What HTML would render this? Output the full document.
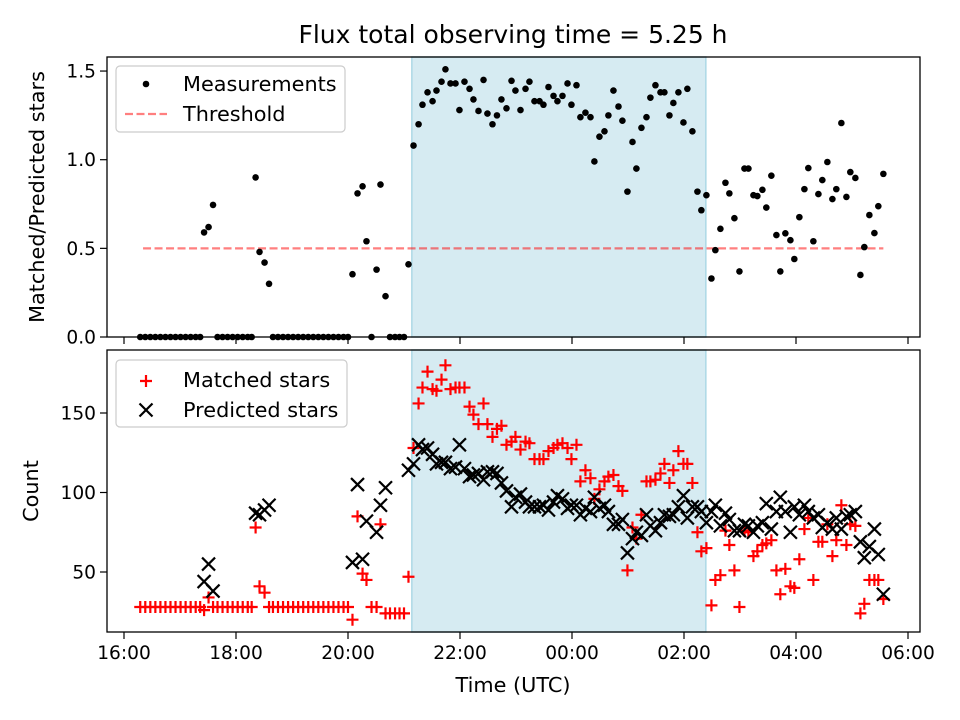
<!DOCTYPE html>
<html><head><meta charset="utf-8"><style>
html,body{margin:0;padding:0;background:#fff}
svg{display:block;font-family:"DejaVu Sans","Liberation Sans",sans-serif}
</style></head><body>
<svg id="chart" width="960" height="720" viewBox="0 0 960 720" xmlns="http://www.w3.org/2000/svg">
<text x="513" y="43" font-size="25" text-anchor="middle">Flux total observing time = 5.25 h</text>
<g id="topPanel"></g>
<g id="botPanel"></g>
<text x="513" y="692" font-size="20.8" text-anchor="middle">Time (UTC)</text>
<text transform="translate(44,197) rotate(-90)" font-size="20.8" text-anchor="middle">Matched/Predicted stars</text>
<text transform="translate(38,491) rotate(-90)" font-size="20.8" text-anchor="middle">Count</text>
</svg>
<script>
const times = [0.29,0.38,0.47,0.56,0.65,0.74,0.83,0.92,1.01,1.10,1.19,1.28,1.36,1.43,1.51,1.59,1.67,1.76,1.85,1.94,2.03,2.12,2.21,2.28,2.35,2.42,2.51,2.59,2.66,2.75,2.84,2.93,3.02,3.11,3.20,3.29,3.38,3.47,3.56,3.65,3.74,3.83,3.92,4.00,4.08,4.17,4.26,4.33,4.42,4.51,4.58,4.67,4.75,4.84,4.92,5.00,5.08,5.17,5.26,5.33,5.42,5.51,5.58,5.67,5.74,5.83,5.92,5.99,6.08,6.17,6.24,6.33,6.42,6.49,6.58,6.66,6.74,6.83,6.92,6.99,7.08,7.17,7.24,7.33,7.42,7.49,7.58,7.67,7.74,7.83,7.92,7.99,8.08,8.15,8.24,8.33,8.40,8.49,8.58,8.65,8.74,8.83,8.90,8.99,9.08,9.15,9.24,9.33,9.40,9.49,9.58,9.65,9.74,9.81,9.90,9.99,10.06,10.15,10.24,10.31,10.40,10.49,10.56,10.65,10.74,10.81,10.90,10.99,11.08,11.15,11.24,11.31,11.40,11.47,11.56,11.65,11.72,11.81,11.90,11.97,12.06,12.15,12.22,12.31,12.40,12.47,12.56,12.65,12.72,12.81,12.90,12.97,13.06,13.15,13.22,13.31,13.40,13.47,13.56];
const ratio = [0,0,0,0,0,0,0,0,0,0,0,0,0,0.59,0.62,0.745,0,0,0,0,0,0,0,0,0.90,0.48,0.42,0.30,0,0,0,0,0,0,0,0,0,0,0,0,0,0,0,0,0.354,0.81,0.85,0.54,0,0.38,0.86,0.23,0,0,0,0,0.41,1.08,1.20,1.31,1.38,1.33,1.39,1.44,1.51,1.43,1.43,1.28,1.44,1.40,1.34,1.275,1.45,1.26,1.20,1.25,1.34,1.29,1.445,1.39,1.28,1.40,1.44,1.33,1.33,1.31,1.41,1.36,1.33,1.36,1.43,1.31,1.42,1.24,1.265,1.24,0.99,1.13,1.16,1.25,1.39,1.30,1.22,0.82,1.10,0.95,1.18,1.24,1.35,1.42,1.38,1.38,1.25,1.32,1.38,1.21,1.40,1.16,0.82,0.715,0.80,0.33,0.49,0.61,0.87,0.81,0.67,0.37,0.95,0.95,0.80,0.795,0.83,0.73,0.91,0.575,0.37,0.585,0.546,0.44,0.676,0.834,0.953,0.54,0.806,0.885,0.987,0.778,0.834,1.207,0.79,0.93,0.897,0.35,0.507,0.688,0.586,0.738,0.92];
const matched = [28,28,28,28,28,28,28,28,28,28,28,28,28,26,34,28,28,28,28,28,28,28,28,28,78,41,37,28,28,28,28,28,28,28,28,28,28,28,28,28,28,28,28,28,20,85,49,45,28,28,80,24,24,24,24,24,47,128,156,166,176,165,164,171,180,165,166,166,166,154,149,143,156,143,135,140,142,130,132,135,127,132,131,121,121,121,126,128,130,131,128,121,130,107,114,109,96,102,107,110,111,104,101,51,78,71,86,107,107,108,112,118,106,114,126,118,118,106,75,63,65,29,45,48,76,67,51,28,76,75,60,63,67,68,70,51,36,52,41,40,58,77,84,45,69,69,80,60,70,92,67,80,79,24,30,45,45,45,33];
const predicted = [null,null,null,null,null,null,null,null,null,null,null,null,null,44,55,38,null,null,null,null,null,null,null,null,87,86,89,92,null,null,null,null,null,null,null,null,null,null,null,null,null,null,null,null,56,105,58,82,null,75,92,103,null,null,null,null,114,118,130,127,128,124,118,119,119,115,116,130,115,110,111,112,108,113,113,112,106,101,91,97,99,94,91,91,91,92,89,94,98,96,90,92,92,86,90,88,97,90,92,88,80,80,83,62,71,75,73,86,79,76,81,86,85,86,91,98,84,91,91,88,81,88,92,79,87,83,76,76,80,79,75,79,81,93,77,88,97,88,75,91,86,92,88,84,86,78,81,77,84,77,85,86,88,69,59,66,77,61,36];
const xTickLabels = ["16:00","18:00","20:00","22:00","00:00","02:00","04:00","06:00"];
const xTickHours = [0,2,4,6,8,10,12,14];
const topYTicks = [0.0,0.5,1.0,1.5];
const botYTicks = [50,100,150];
const shadeRange = [5.14,10.39];
const thresholdValue = 0.5;
const thresholdRange = [0.34,13.56];

const NS="http://www.w3.org/2000/svg";
const L=107,R=920,T1=57,B1=337,T2=350,B2=632;
const FS=18.6, LFS=20.8;
const xs=h=>124+56*h;
const y1=v=>337-177.3*v;
const y2=v=>572-1.59*(v-50);
function mk(parent,tag,attrs){const e=document.createElementNS(NS,tag);for(const k in attrs)e.setAttribute(k,attrs[k]);parent.appendChild(e);return e;}
const topG=document.getElementById('topPanel'),botG=document.getElementById('botPanel');

[[topG,T1,B1],[botG,T2,B2]].forEach(([g,t,b])=>{
  const r=mk(g,'rect',{x:xs(shadeRange[0]),y:t,width:xs(shadeRange[1])-xs(shadeRange[0]),height:b-t,fill:'#add8e6','fill-opacity':0.5,stroke:'#add8e6','stroke-width':1.5});
  
  
});
const th=mk(topG,'line',{x1:xs(thresholdRange[0]),x2:xs(thresholdRange[1]),y1:y1(thresholdValue),y2:y1(thresholdValue),stroke:'#ff0000','stroke-opacity':0.5,'stroke-width':2.2,'stroke-dasharray':'8,3.5'});


times.forEach((t,i)=>{
  const c=mk(topG,'circle',{cx:xs(t),cy:y1(ratio[i]),r:3.3,fill:'#000'});
  
  
});
times.forEach((t,i)=>{
  const x=xs(t),y=y2(matched[i]),s=6;
  const p=mk(botG,'path',{d:`M${x-s},${y}H${x+s}M${x},${y-s}V${y+s}`,stroke:'#ff0000','stroke-width':2.2,fill:'none'});
  
  
});
times.forEach((t,i)=>{
  if(predicted[i]==null)return;
  const x=xs(t),y=y2(predicted[i]),s=6.5;
  const p=mk(botG,'path',{d:`M${x-s},${y-s}L${x+s},${y+s}M${x-s},${y+s}L${x+s},${y-s}`,stroke:'#000','stroke-width':2.2,fill:'none'});
  
  
});
[[topG,T1,B1],[botG,T2,B2]].forEach(([g,t,b])=>{
  const f=mk(g,'rect',{x:L,y:t,width:R-L,height:b-t,fill:'none',stroke:'#000','stroke-width':1.3});
  
  
  xTickHours.forEach(h=>{
    const tk=mk(g,'line',{x1:xs(h),x2:xs(h),y1:b,y2:b+7,stroke:'#000','stroke-width':1.2});
    
    
  });
});
xTickHours.forEach((h,i)=>{
  const tx=mk(botG,'text',{x:xs(h),y:B2+27,'font-size':FS,'text-anchor':'middle'});
  tx.textContent=xTickLabels[i];
  
  
});
topYTicks.forEach(v=>{
  const y=y1(v);
  const tk=mk(topG,'line',{x1:L-7,x2:L,y1:y,y2:y,stroke:'#000','stroke-width':1.2});
  
  
  const tx=mk(topG,'text',{x:L-11,y:y+6.5,'font-size':FS,'text-anchor':'end'});
  tx.textContent=v.toFixed(1);
  
  
});
botYTicks.forEach(v=>{
  const y=y2(v);
  const tk=mk(botG,'line',{x1:L-7,x2:L,y1:y,y2:y,stroke:'#000','stroke-width':1.2});
  
  
  const tx=mk(botG,'text',{x:L-11,y:y+6.5,'font-size':FS,'text-anchor':'end'});
  tx.textContent=String(v);
  
  
});
function legend(g,x,y,w,h,name){
  const r=mk(g,'rect',{x:x,y:y,width:w,height:h,rx:4,fill:'#fff','fill-opacity':0.8,stroke:'#ccc','stroke-width':1.2});
  
  
}
legend(topG,116,66,229,66,'top-legend');
const ld=mk(topG,'circle',{cx:146,cy:84,r:3.3,fill:'#000'});


const lt1=mk(topG,'text',{x:183,y:91,'font-size':LFS});lt1.textContent='Measurements';


const ll=mk(topG,'line',{x1:125,x2:167,y1:114,y2:114,stroke:'#ff0000','stroke-opacity':0.5,'stroke-width':2.2,'stroke-dasharray':'8,3.5'});


const lt2=mk(topG,'text',{x:183,y:121,'font-size':LFS});lt2.textContent='Threshold';



legend(botG,116,360,231,67,'bottom-legend');
const lp=mk(botG,'path',{d:'M140,381H152M146,375V387',stroke:'#ff0000','stroke-width':2.2});


const lt3=mk(botG,'text',{x:183,y:387,'font-size':LFS});lt3.textContent='Matched stars';


const lx=mk(botG,'path',{d:'M139.5,403.5L152.5,416.5M139.5,416.5L152.5,403.5',stroke:'#000','stroke-width':2.2});


const lt4=mk(botG,'text',{x:183,y:417,'font-size':LFS});lt4.textContent='Predicted stars';


</script>
</body></html>
